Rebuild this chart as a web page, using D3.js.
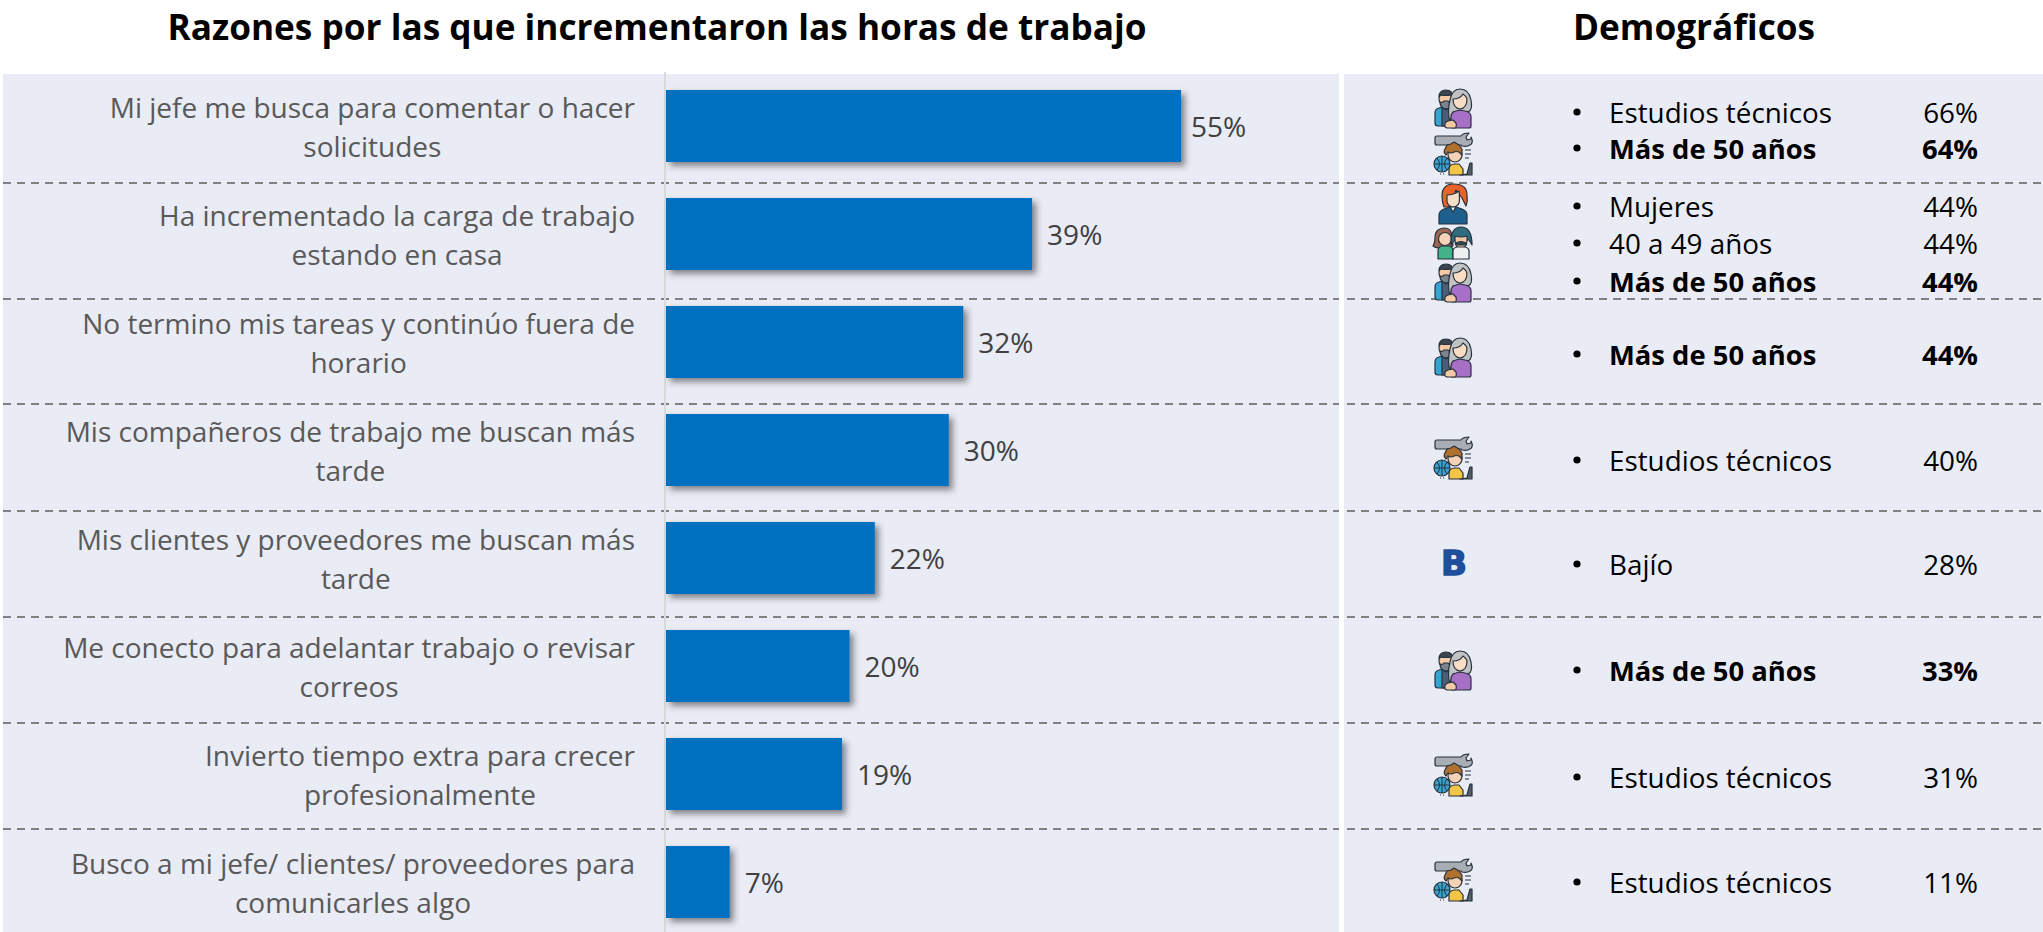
<!DOCTYPE html>
<html><head><meta charset="utf-8">
<script src="https://cdn.jsdelivr.net/npm/d3@7"></script>
<style>html,body{margin:0;padding:0;background:#fff;overflow:hidden}svg{display:block}text{font-family:"Open Sans",sans-serif}</style>
</head><body><svg id="c" width="2043" height="932"></svg>
<script>
const categories=[
"Mi jefe me busca para comentar o hacer|solicitudes",
"Ha incrementado la carga de trabajo|estando en casa",
"No termino mis tareas y continúo fuera de|horario",
"Mis compañeros de trabajo me buscan más|tarde",
"Mis clientes y proveedores me buscan más|tarde",
"Me conecto para adelantar trabajo o revisar|correos",
"Invierto tiempo extra para crecer|profesionalmente",
"Busco a mi jefe/ clientes/ proveedores para|comunicarles algo"];
const values=[55,39.1,31.75,30.2,22.3,19.6,18.8,6.8];
const demoLabels=["Estudios técnicos","Más de 50 años","Mujeres","40 a 49 años","Más de 50 años","Más de 50 años","Estudios técnicos","Bajío","Más de 50 años","Estudios técnicos","Estudios técnicos"];
const demoValues=[66,64,44,44,44,44,40,28,33,31,11];
const demoBold=[false,true,false,false,true,true,false,false,true,false,false];
const demoIcons=["older","tech","woman","couple","older","older","tech","b","older","tech","tech"];
const titleMain="Razones por las que incrementaron las horas de trabajo";
const titleDemo="Demográficos";

// layout
const demoY=[112,148,206,243,281,354,460,564,670,777,882];
const iconY=[108,156,204,243,282,357,460,564,670,777,882];
const sepY=[183,299,404,511,617,723,829];
const svg=d3.select("#c");
const defs=svg.append("defs");
const f=defs.append("filter").attr("id","sh").attr("x","-10%").attr("y","-10%").attr("width","125%").attr("height","130%");
f.append("feDropShadow").attr("dx",4).attr("dy",4).attr("stdDeviation",3).attr("flood-color","#333").attr("flood-opacity",.55);

const x=d3.scaleLinear().domain([0,55]).range([666,1181]);
const y=d3.scaleBand().domain(categories).range([90,918]).paddingInner(1/3);

svg.append("rect").attr("x",3).attr("y",74).attr("width",1336).attr("height",858).attr("fill","#E9EBF5");
svg.append("rect").attr("x",1344).attr("y",74).attr("width",699).attr("height",858).attr("fill","#E9EBF5");

svg.append("text").attr("x",657).attr("y",26).attr("text-anchor","middle").attr("dominant-baseline","central")
  .attr("font-size",35.2).attr("font-weight",700).attr("fill","#000").text(titleMain);
svg.append("text").attr("x",1694).attr("y",26).attr("text-anchor","middle").attr("dominant-baseline","central")
  .attr("font-size",35.2).attr("font-weight",700).attr("fill","#000").text(titleDemo);

svg.selectAll("line.sep").data(sepY).join("line").attr("class","sep")
  .attr("x1",3).attr("x2",2043).attr("y1",d=>d).attr("y2",d=>d)
  .attr("stroke","#808080").attr("stroke-width",2).attr("stroke-dasharray","8 6");
svg.append("rect").attr("x",1339).attr("y",74).attr("width",5).attr("height",858).attr("fill","#fff");

svg.append("line").attr("x1",665).attr("x2",665).attr("y1",72).attr("y2",932).attr("stroke","#d9d9d9").attr("stroke-width",2);

svg.selectAll("rect.bar").data(values).join("rect").attr("class","bar")
  .attr("x",x(0)).attr("y",(d,i)=>y(categories[i])).attr("width",d=>x(d)-x(0)).attr("height",y.bandwidth())
  .attr("fill","#0070C0").attr("filter","url(#sh)");
svg.selectAll("text.val").data(values).join("text").attr("class","val")
  .attr("x",d=>x(d)+(d>=55?10:15)).attr("y",(d,i)=>y(categories[i])+y.bandwidth()/2).attr("dominant-baseline","central")
  .attr("font-size",28).attr("fill","#404040").text(d=>d3.format(".0f")(d)+"%");

const lab=svg.selectAll("text.cat").data(categories).join("text").attr("class","cat")
  .attr("text-anchor","middle").attr("font-size",28).attr("fill","#595959");
lab.each(function(c){
  const t=d3.select(this),ls=c.split("|"),cy=y(c)+y.bandwidth()/2;
  const a=t.append("tspan").attr("y",cy-19.5).attr("dominant-baseline","central").text(ls[0]);
  const b=t.append("tspan").attr("y",cy+19.5).attr("dominant-baseline","central").text(ls[1]);
  const cx=635-a.node().getComputedTextLength()/2;
  a.attr("x",cx); b.attr("x",cx);
});

const ink="#26323d";
function P(g,d,fill){return g.append("path").attr("d",d).attr("fill",fill).attr("stroke",ink).attr("stroke-width",1.2).attr("stroke-linejoin","round")}
function C(g,cx,cy,r,fill){return g.append("circle").attr("cx",cx).attr("cy",cy).attr("r",r).attr("fill",fill).attr("stroke",ink).attr("stroke-width",1.2)}
function older(g){
  P(g,"M-18 15V5q0-4 4-5l6-2h8v20H-15q-3 0-3-3z","#35a3d4");
  P(g,"M-11 -1l4 3 4-3 3 1v18h-11z","#4a5f78");
  C(g,-7,-9,7,"#f3c9a6");
  P(g,"M-14 -11q0-7 7-7t7 7q-1-2-2-2-5 1-10 0-1 0-2 2z","#3d4650");
  P(g,"M-13 -6q3 1 4-1h4q1 2 4 1q0 6-6 7q-6-1-6-7z","#7b838c");
  P(g,"M-3 14Q-6 4 -3 -8Q-1 -19 7 -19Q16 -19 18 -8Q20 2 15 4L0 4z","#c0c2c4");
  P(g,"M0 -9q7 0 10-5q3 2 4 5q0 9-7 10q-7-1-7-10z","#f8dcc4");
  P(g,"M-2 19V9q0-5 5-6l4-1 5 1q6 1 6 6v9q0 2-2 2H-1z","#a86fc6");
  P(g,"M-8 19q-1-5 3-6l5-1 3 3q1 4-1 5h-8z","#f3c9a6");
}
function tech(g){
  P(g,"M-18 -18q0-2 2-2H8q2-3 8-3l-3 4 1 3 4-1 0-2q3 6-1 8-3 2-8 1l-1-1H-16q-2 0-2-2z","#a9aeb4");
  C(g,-11,8,8,"#3aa3cf");
  g.append("path").attr("d","M-19 8h16M-11 0v16M-16 2q5 6 0 12M-6 2q-5 6 0 12").attr("fill","none").attr("stroke",ink).attr("stroke-width",1);
  P(g,"M-4 19v-6q0-4 5-5h5l4 5v6z","#f2c544");
  C(g,2,-1,7,"#f5d2b5");
  P(g,"M-7 -1q-3-3-1-6l2-4 4-1 3-2 5 3 3 4v6l-3-3q-3-1-5 0q-3 2-6 0z","#b0702f");
  P(g,"M7 19l7-1 3-11h2v12z","#56606b");
  g.append("path").attr("d","M12 -6h6M12 -2h6M12 2h4M-13 18h1M-10 18h1").attr("stroke",ink).attr("stroke-width",1.2);
}
function woman(g){
  P(g,"M1 -20q-12 0-12 12 0 6 2 11h5l7-17 6 8 4 8q2-5 1-11 0-11-13-11z","#e8622a");
  P(g,"M-6 -9q7 0 12-4 1 9 0 12-2 4-6 4t-6-5z","#f8ddc9");
  P(g,"M-14 20V11q0-4 5-6l6-2 3 4 3-4 6 2q5 2 5 6v9z","#1e5f8e");
  P(g,"M-3 3l3 5 3-5z","#e9ebf5");
}
function couple(g){
  P(g,"M-8 -15q-10 0-10 10 0 5-2 8 4 3 9 1h8q3 0 3-2-1-3-1-7 0-10-7-10z","#9c6650");
  C(g,-8,-4,6.5,"#f6d2b6");
  P(g,"M-15 16V8q0-4 4-5h7q4 1 4 5v8z","#43b48a");
  P(g,"M-2 2Q-3 -16 8 -16 T19 2l-3-5h-14z","#2f6d7e");
  P(g,"M2 -7q6 2 12 0v4q0 8-6 8t-6-8z","#f0c7a4");
  P(g,"M3 0q5-3 10 0v2h-10z","#2f4854");
  P(g,"M0 16V8q0-3 4-4h8q4 1 4 4v8z","#eef0f2");
}
const painters={older,tech,woman,couple,b(g){
  g.append("text").attr("x",1).attr("y",-1).attr("text-anchor","middle").attr("dominant-baseline","central").attr("font-size",34).attr("font-weight",900)
   .attr("fill","#1F4E9C").attr("style","font-family:'DejaVu Sans'").attr("stroke","#1F4E9C").attr("stroke-width",1.5).text("B");
}};
demoIcons.forEach((k,i)=>{
  const g=svg.append("g").attr("class","icon").attr("transform",`translate(1453,${iconY[i]})`);
  painters[k](g);
});

const rows=svg.selectAll("g.row").data(demoLabels).join("g").attr("class","row").attr("transform",(d,i)=>`translate(0,${demoY[i]})`);
rows.append("circle").attr("cx",1577).attr("r",3.6).attr("fill","#000");
rows.append("text").attr("x",1609).attr("dominant-baseline","central").attr("font-size",(d,i)=>demoBold[i]?27.4:27.8).attr("font-weight",(d,i)=>demoBold[i]?700:400).attr("fill","#000").text(d=>d);
rows.append("text").attr("x",1978).attr("text-anchor","end").attr("dominant-baseline","central").attr("font-size",(d,i)=>demoBold[i]?27.4:27.8).attr("font-weight",(d,i)=>demoBold[i]?700:400).attr("fill","#000").text((d,i)=>demoValues[i]+"%");
</script></body></html>
